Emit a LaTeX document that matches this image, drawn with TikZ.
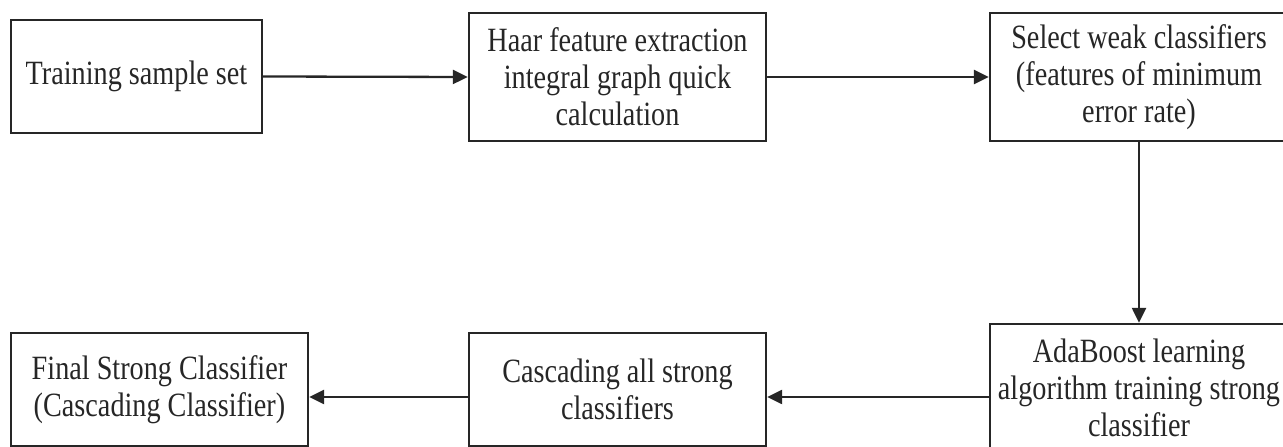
\documentclass[tikz,border=0pt]{standalone}
\usepackage{fontspec}
\setmainfont{Liberation Serif}[FakeStretch=0.83]
\usetikzlibrary{arrows.meta}
\tikzset{
  stepbox/.style={draw=black!85, line width=2.3pt, align=center, inner sep=0pt,
    font=\fontsize{34}{37}\selectfont, text=black!85},
  arr/.style={draw=black!85, line width=2.3pt, -{Triangle[length=15pt,width=14pt]}}
}
\begin{document}
\begin{tikzpicture}[x=1pt,y=1pt]
\useasboundingbox (0,0) rectangle (1283,447);
\clip (0,0) rectangle (1283,447);
\node[stepbox, minimum width=251pt, minimum height=113pt] (b1) at (136.5,370.5) {Training sample set};
\node[stepbox, minimum width=297pt, minimum height=128pt] (b2) at (617.5,370) {Haar feature extraction\\integral graph quick\\calculation};
\node[stepbox, minimum width=298pt, minimum height=128pt] (b3) at (1139,370) {Select weak classifiers\\(features of minimum\\error rate)};
\node[stepbox, minimum width=298pt, minimum height=128pt] (b4) at (1139,59) {AdaBoost learning\\algorithm training strong\\classifier};
\node[stepbox, minimum width=297pt, minimum height=113pt] (b5) at (617.5,57.5) {Cascading all strong\\classifiers};
\node[stepbox, minimum width=297pt, minimum height=113pt] (b6) at (159.5,57.5) {Final Strong Classifier\\(Cascading Classifier)};
\draw[arr] (b1.east) -- (b2.west);
\draw[arr] (b2.east) -- (b3.west);
\draw[arr] (b3.south) -- (b4.north);
\draw[arr] (b4.west |- 0,50) -- (b5.east |- 0,50);
\draw[arr] (b5.west |- 0,50) -- (b6.east |- 0,50);
\end{tikzpicture}
\end{document}
